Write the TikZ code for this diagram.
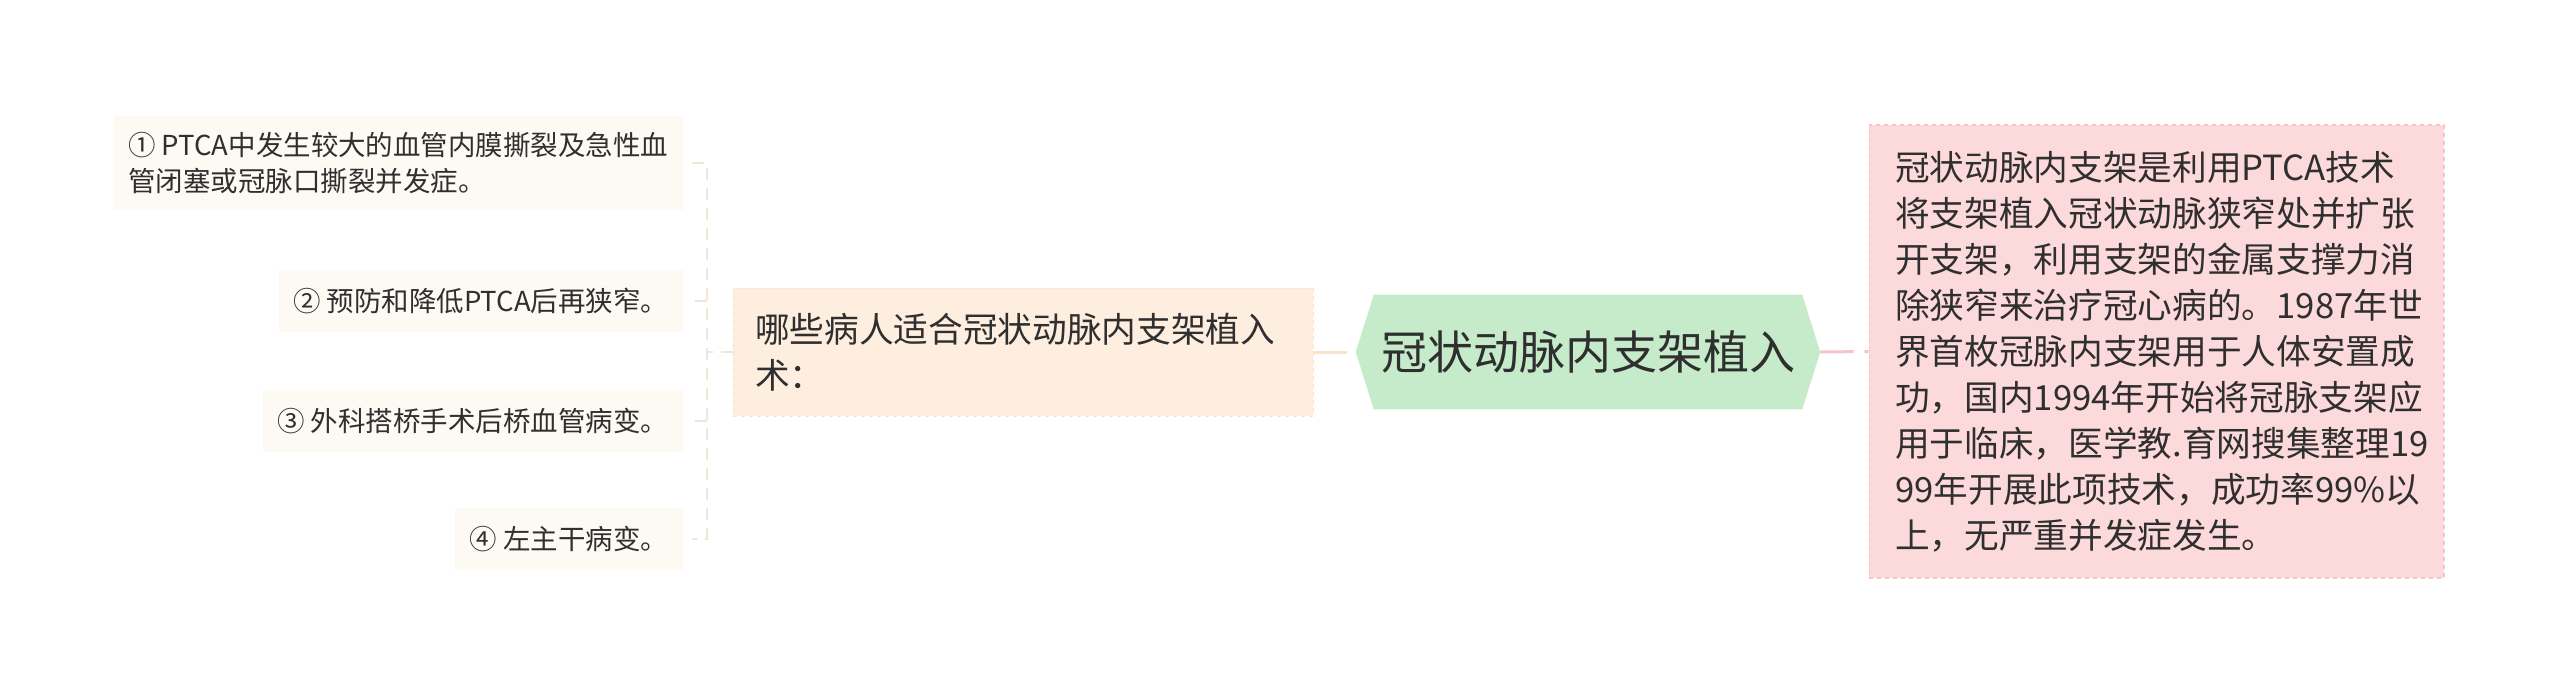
\documentclass[tikz,border=0pt]{standalone}
\usepackage{fontspec}
\setmainfont{Noto Sans CJK SC}
\usetikzlibrary{calc,backgrounds}
\definecolor{ink}{HTML}{2F2F2F}
\definecolor{leaffill}{HTML}{FDF9F3}
\definecolor{whyfill}{HTML}{FEEEDF}
\definecolor{whyline}{HTML}{FBE2CC}
\definecolor{hubfill}{HTML}{C5EBCB}
\definecolor{notefill}{HTML}{FCDADB}
\definecolor{noteline}{HTML}{F6C3C7}
\definecolor{stemline}{HTML}{F0E5D6}

\begin{document}
\begin{tikzpicture}[x=0.75pt,y=-0.75pt,
    leaf/.style={fill=leaffill,text=ink,anchor=east,align=left,inner xsep=11pt,
      minimum height=46.5pt,font=\fontsize{20.6}{27}\selectfont},
    why/.style={fill=whyfill,draw=whyline,dashed,text=ink,align=left,text width=402pt,
      inner xsep=16.5pt,minimum height=96pt,font=\fontsize{26}{34.5}\selectfont},
    hub/.style={text=ink,minimum width=321pt,minimum height=85.5pt,
      font=\fontsize{34.5}{40}\selectfont},
    note/.style={fill=notefill,draw=noteline,dashed,line width=1pt,text=ink,align=left,
      text width=392pt,inner xsep=19.5pt,minimum height=339.75pt,
      font=\fontsize{26}{34.5}\selectfont},
    stem/.style={draw=stemline,line width=1.5pt,dash pattern=on 9pt off 6pt},
    link/.style={line width=2.25pt,dash pattern=on 25pt off 8pt}]
  \useasboundingbox (0,0) rectangle (2560,693);

  \node[leaf,minimum height=71pt] (c1) at (683,163)
    {① PTCA中发生较大的血管内膜撕裂及急性血\\管闭塞或冠脉口撕裂并发症。};
  \node[leaf] (c2) at (683,301) {② 预防和降低PTCA后再狭窄。};
  \node[leaf] (c3) at (683,421) {③ 外科搭桥手术后桥血管病变。};
  \node[leaf] (c4) at (683,539) {④ 左主干病变。};

  \node[why] (why) at (1023,352) {哪些病人适合冠状动脉内支架植入\\术：};
  \node[hub] (hub) at (1588,352) {冠状动脉内支架植入};
  \node[note] (def) at (2156.5,351.5)
    {冠状动脉内支架是利用PTCA技术\\将支架植入冠状动脉狭窄处并扩张\\开支架，利用支架的金属支撑力消\\除狭窄来治疗冠心病的。1987年世\\界首枚冠脉内支架用于人体安置成\\功，国内1994年开始将冠脉支架应\\用于临床，医学教.育网搜集整理19\\99年开展此项技术，成功率99\%以\\上，无严重并发症发生。};

  % left fork
  \coordinate (fork) at ($(why.west)+(-26,0)$);
  \draw[stem] (why.west) -- (fork);
  \draw[stem] ($(c1.east)+(9,0)$) -- (fork |- c1.east) -- (fork |- c4.east) -- ($(c4.east)+(9,0)$);
  \foreach \c in {c2,c3}
    \draw[stem] (fork |- \c.east) -- ($(\c.east)+(9,0)$);

  % right side
  \draw[link,whyline] (why.east) -- ([xshift=-13.5pt]hub.west);
  \draw[link,noteline] ([xshift=13.5pt]hub.east) -- (def.west);

  \begin{scope}[on background layer]
    \fill[white] (0,0) rectangle (2560,693);
    \fill[hubfill] (hub.north west) -- (hub.north east) -- ([xshift=13.5pt]hub.east)
      -- (hub.south east) -- (hub.south west) -- ([xshift=-13.5pt]hub.west) -- cycle;
  \end{scope}
\end{tikzpicture}
\end{document}
